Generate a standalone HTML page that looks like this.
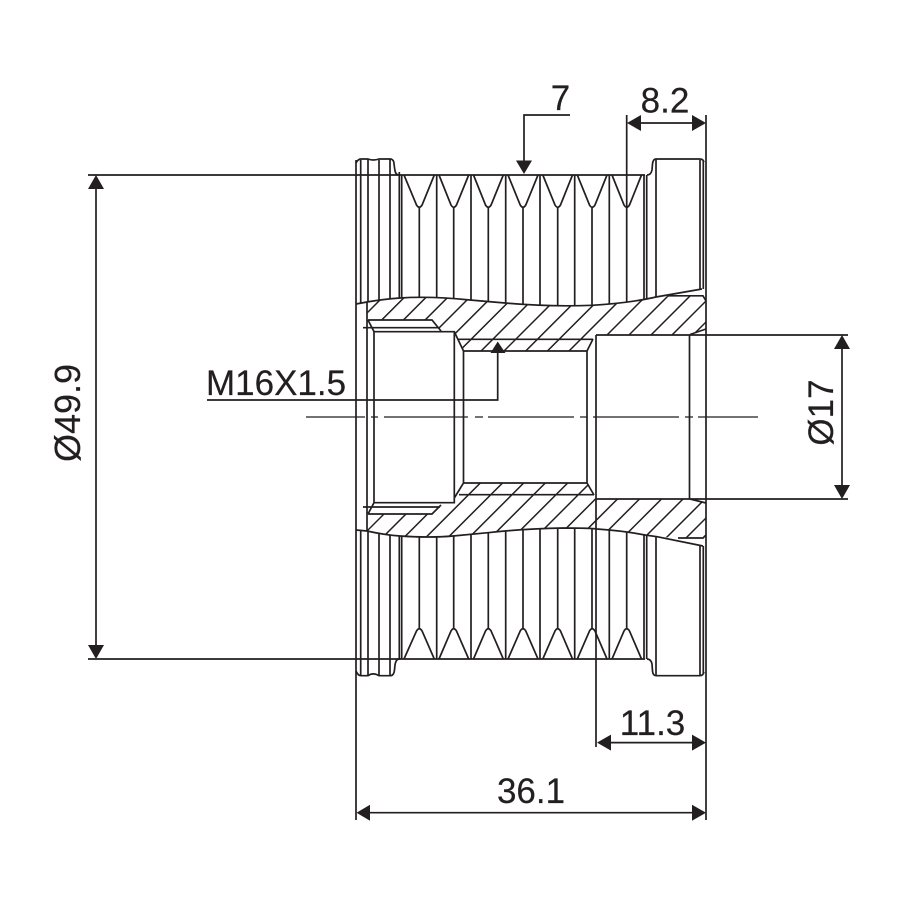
<!DOCTYPE html>
<html>
<head>
<meta charset="utf-8">
<style>
html,body{margin:0;padding:0;background:#fff;}
svg{display:block;}
text{font-family:"Liberation Sans",sans-serif;font-size:35px;fill:#231f20;stroke:#231f20;stroke-width:.2px;}
</style>
</head>
<body>
<svg width="900" height="900" viewBox="0 0 900 900" xmlns="http://www.w3.org/2000/svg">
<defs>
<clipPath id="cu"><path d="M367 302 Q385 299 400 298 Q430 296 470 300 L505 303 Q550 307 592 305.3 Q630 303 656 297 L668 296 L703 296 L706 301 L706 329 L690 335 L596 335 L593 339 L587 351 L463.5 351 L454 331 L441 331 L432 320 L368 320 Z"/></clipPath>
<clipPath id="cl"><path d="M367 531 Q385 535 400 536 Q430 538 453 536 L488 532.7 Q520 529 563 528 Q590 528 597 529 Q625 531 645 535 L657 536.7 L678 538 L703 538 L706 535 L706 503 L690 499 L596 499 L594 495 L587 483 L463.5 483 L459 495 L454 498 L441 505 L432 514 L368 514 Z"/></clipPath>
</defs>
<g fill="none" stroke="#231f20" stroke-width="1.7">
<!-- hatch upper -->
<g clip-path="url(#cu)" stroke-width="1.5">
<path d="M680 0L280 400M701.7 0L301.7 400M723.4 0L323.4 400M745.1 0L345.1 400M767 0L367 400M788.7 0L388.7 400M810.4 0L410.4 400M832.1 0L432.1 400M855 0L455 400M876.7 0L476.7 400M898.4 0L498.4 400M920 0L520 400M942 0L542 400M964 0L564 400M986 0L586 400M1007 0L607 400M1028 0L628 400"/>
</g>
<!-- hatch lower -->
<g clip-path="url(#cl)" stroke-width="1.5">
<path d="M898 0L298 600M920 0L320 600M941.5 0L341.5 600M963.3 0L363.3 600M985.5 0L385.5 600M1006.7 0L406.7 600M1028.3 0L428.3 600M1050.7 0L450.7 600M1073 0L473 600M1094.5 0L494.5 600M1116.5 0L516.5 600M1138.5 0L538.5 600M1160.5 0L560.5 600M1182 0L582 600M1204 0L604 600M1224 0L624 600"/>
</g>
<!-- section outline curves -->
<path d="M356 304 L367 302 Q385 299 400 298 Q430 296 470 300 L505 303 Q550 307 592 305.3 Q630 303 656 297 L702 289"/>
<path d="M356 530 L367 531 Q385 535 400 536 Q430 538 453 536 L488 532.7 Q520 529 563 528 Q590 528 597 529 Q625 531 645 535 L657 536.7 L703 546"/>
<path d="M668 295.8H703L706 301M678 538H703L706 535"/>
<!-- top / bottom profile -->
<path d="M356 163 Q358 159 361 159 H368 Q373 161 379 159 H391 Q394 160 394 164 L395 171 Q396 175 399 175"/>
<path d="M356 671 Q358 675.7 361 675.7 H368 Q373 672 379 675.7 H391 Q394 675 394.500 670 L395 665 Q396 659 399 659"/>
<path d="M647 175 Q651 175 652 170 L652.500 164 Q653 159 656 159 H700 Q703 159 704 162"/>
<path d="M647 659 Q651 659 652 664 L652.500 671 Q653 675.700 656 675.700 H700 Q703 675.700 704 672"/>
<!-- belts top grooves -->
<path d="M404 175L416.500 205Q419.300 209.500 422.100 205L434.300 175M439 175L451 205Q453.700 209.500 456.500 205L468.700 175M473.500 175L485.500 205Q488.300 209.500 491.100 205L503.300 175M508 175L520.200 205Q523 209.500 525.800 205L538 175M542.800 175L555 205Q557.700 209.500 560.500 205L572.500 175M577.300 175L589.500 205Q592 209.500 595 205L607 175M612 175L624 205Q626.700 209.500 629.500 205L641.500 175"/>
<path d="M404 659L416.500 631Q419.300 626.500 422.100 631L434.300 659M439 659L451 631Q453.700 626.500 456.500 631L468.700 659M473.500 659L485.500 631Q488.300 626.500 491.100 631L503.300 659M508 659L520.200 631Q523 626.500 525.800 631L538 659M542.800 659L555 631Q557.700 626.500 560.500 631L572.500 659M577.300 659L589.500 631Q592 626.500 595 631L607 659M612 659L624 631Q626.700 626.500 629.500 631L641.500 659"/>
<!-- vertical lines upper -->
<path d="M360.700 160V303.500M368 159V302M379 160V300.500M390 159V299M399.300 172V298M401.700 175V298M436.700 175V297.500M471 175V300.300M505.700 175V303M540 175V305M574.700 175V305.700M609.300 175V304M644 175V300M646.700 175V299.500M656 159V297M700 160V289.500M703.300 161V289"/>
<path d="M419.300 208V297M453.700 208V298.500M488.300 208V301.500M523 208V304.500M557.700 208V305.700M592 208V305.300M626.700 115V302"/>
<!-- vertical lines lower -->
<path d="M360.700 530.500V675.700M368 531V675.700M379 533.500V675.700M390 535V675.700M399.300 536V660M401.700 536V659M436.700 537V659M471 534.500V659M505.700 531V659M540 528.700V659M574.700 528V659M609.300 529.700V659M644 535V659M646.700 535.300V659M656 536.700V675.700M700 545.500V675.700M703.300 546V673"/>
<path d="M419.300 537V628M453.700 536V628M488.300 532.700V628M523 529V628M557.700 528V628M592 528V628M626.700 532V628"/>
<!-- interior -->
<path d="M367 302V531M368 320H432L441 331M368 320L374 331.700M363 327.700H440M374 331.700H454.300V502.700H374ZM454.300 331.700L463.500 351V483L454.300 498M463.500 351H587L593 339M458 339.300H593M463.500 483H587L594 495M459 494.700H594M587 351V483M363 507H440M368 514H432L441 505M368 514L374 502.700"/>
<path d="M596 335V747M596 335H848M596 499H848M689.500 335V499M690 334.500L706 329M690 499L706 503"/>
<!-- extension lines -->
<path d="M356 160V820M706 115V820M88 175H645M88 659H645"/>
<!-- center line -->
<path stroke-width="1.3" d="M306 417H365M371 417H378M384 417H468M475 417H483M488 417H574M580 417H587M593 417H679M685 417H693M698 417H758"/>
<!-- leaders -->
<path d="M570 115H524V165"/>
<path d="M207 400H497.700V350"/>
<!-- dimension lines -->
<path d="M96 185V650"/>
<path d="M842 345V490"/>
<path d="M635 123H698M605 742.600H698M365 812.700H698"/>
</g>
<!-- arrowheads -->
<g fill="#231f20" stroke="none">
<path d="M524 174L516 160.500H532Z"/>
<path d="M497.700 341.500L490.500 353H505.500Z"/>
<path d="M96 175L88 189H104Z"/>
<path d="M96 659L88 645H104Z"/>
<path d="M842 335L834 349H850Z"/>
<path d="M842 499L834 485H850Z"/>
<path d="M627 123L641 115V131Z"/>
<path d="M706 123L692 115V131Z"/>
<path d="M597 742.600L611 734.600V750.600Z"/>
<path d="M706 742.600L692 734.600V750.600Z"/>
<path d="M356.500 812.700L370 804.700V820.700Z"/>
<path d="M706 812.700L692 804.700V820.700Z"/>
</g>
<!-- labels -->
<text x="560.500" y="110" text-anchor="middle">7</text>
<text x="665" y="112.500" text-anchor="middle">8.2</text>
<text x="206" y="395">M16X1.5</text>
<text x="652.500" y="735" text-anchor="middle">11.3</text>
<text x="531" y="803" text-anchor="middle">36.1</text>
<text transform="translate(80 413) rotate(-90)" text-anchor="middle" style="font-size:36px">Ø49.9</text>
<text transform="translate(833 412.500) rotate(-90)" text-anchor="middle">Ø17</text>
</svg>
</body>
</html>
